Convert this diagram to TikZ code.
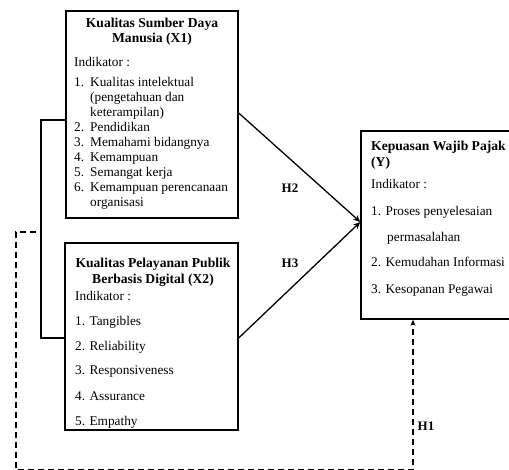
\documentclass[tikz,border=0pt]{standalone}
\usepackage{fontspec}
\setmainfont{Liberation Serif}
\usetikzlibrary{arrows.meta}
\begin{document}
\begin{tikzpicture}[x=1pt,y=-1pt,
  box/.style={draw, line width=1.4pt, inner sep=0pt},
  txt/.style={font=\fontsize{13.3}{15}\selectfont, inner sep=0pt, anchor=base west},
  ttl/.style={font=\fontsize{13.6}{15}\selectfont\bfseries, inner sep=0pt, anchor=base},
  ttlw/.style={font=\fontsize{13.6}{15}\selectfont\bfseries, inner sep=0pt, anchor=base west},
  hlab/.style={font=\fontsize{13}{15}\selectfont\bfseries, inner sep=0pt},
  link/.style={line width=1.3pt},
  arr/.style={line width=1.3pt, -{Stealth[length=7pt,width=6pt]}},
  dsh/.style={line width=1.3pt, dash pattern=on 6pt off 4pt, -{Stealth[length=6pt,width=5pt]}},
]
\useasboundingbox (0,0) rectangle (509,470);
\clip (0,0) rectangle (509,470);
% boxes
\node[box, minimum width=172pt, minimum height=207pt] (x1) at (152,114.5) {};
\node[box, minimum width=173pt, minimum height=187pt] (x2) at (151.5,336.5) {};
\node[box, minimum width=153pt, minimum height=188pt] (y) at (437.5,225) {};
% X1 text
\node[ttl] (x1t1) at (152,28) {Kualitas Sumber Daya};
\node[ttl] (x1t2) at (152,43) {Manusia (X1)};
\node[txt] (x1i) at (74,67) {Indikator :};
\node[txt] (x1a) at (74,87) {\makebox[16pt][l]{1.}Kualitas intelektual};
\node[txt] (x1b) at (90,102) {(pengetahuan dan};
\node[txt] (x1c) at (90,117) {keterampilan)};
\node[txt] (x1d) at (74,132) {\makebox[16pt][l]{2.}Pendidikan};
\node[txt] (x1e) at (74,147) {\makebox[16pt][l]{3.}Memahami bidangnya};
\node[txt] (x1f) at (74,162) {\makebox[16pt][l]{4.}Kemampuan};
\node[txt] (x1g) at (74,177) {\makebox[16pt][l]{5.}Semangat kerja};
\node[txt] (x1h) at (74,192) {\makebox[16pt][l]{6.}Kemampuan perencanaan};
\node[txt] (x1k) at (90,207) {organisasi};
% X2 text
\node[ttl] (x2t1) at (153,268) {Kualitas Pelayanan Publik};
\node[ttl] (x2t2) at (153,284) {Berbasis Digital (X2)};
\node[txt] (x2i) at (75,301) {Indikator :};
\node[txt] (x2a) at (75,326) {1. Tangibles};
\node[txt] (x2b) at (75,351) {2. Reliability};
\node[txt] (x2c) at (75,375) {3. Responsiveness};
\node[txt] (x2d) at (75,400) {4. Assurance};
\node[txt] (x2e) at (75,425) {5. Empathy};
% Y text
\node[ttlw] (yt1) at (371,151) {Kepuasan Wajib Pajak};
\node[ttlw] (yt2) at (371,167) {(Y)};
\node[txt] (yi) at (371,189) {Indikator :};
\node[txt] (ya) at (371,216) {1. Proses penyelesaian};
\node[txt] (yb) at (387,242) {permasalahan};
\node[txt] (yc) at (371,267) {2. Kemudahan Informasi};
\node[txt] (yd) at (371,294) {3. Kesopanan Pegawai};
% labels
\node[hlab] (h2) at (290,188) {H2};
\node[hlab] (h3) at (290,263) {H3};
\node[hlab] (h1) at (426,426) {H1};
% connectors
\coordinate (b1) at (41,120);
\coordinate (b2) at (41,338);
\draw[link] (x1.west |- b1) -- (b1) -- (b2) -- (x2.west |- b2);
\coordinate (s1) at (238,113);
\coordinate (s2) at (238,338);
\coordinate (e) at (361,222);
\draw[arr] (x1.east |- s1) -- (y.west |- e);
\draw[arr] (x2.east |- s2) -- (y.west |- e);
\coordinate (d0) at (36,232);
\coordinate (d1) at (16,232);
\coordinate (d2) at (16,470);
\coordinate (d3) at (413,470);
\draw[dsh] (d0) -- (d1) -- (d2) -- (d3) -- (y.south -| d3);
\end{tikzpicture}
\end{document}
